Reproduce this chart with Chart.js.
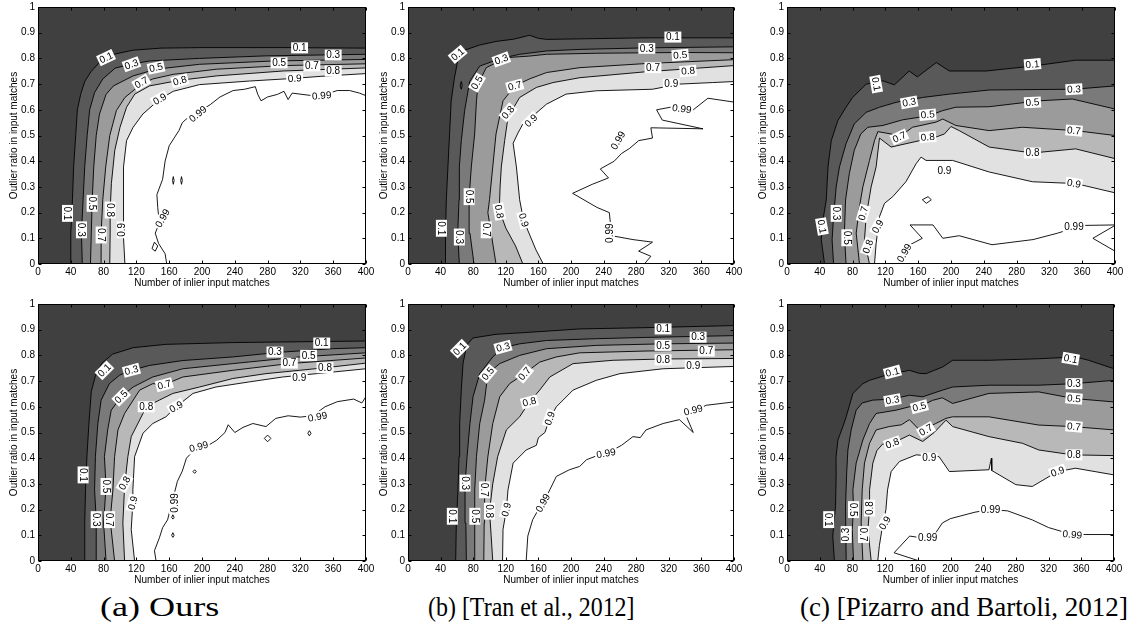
<!DOCTYPE html>
<html>
<head>
<meta charset="utf-8">
<script src="https://cdn.jsdelivr.net/npm/chart.js@4.4.1/dist/chart.umd.min.js"></script>
<style>
html,body{margin:0;padding:0;background:#fff;}
body{width:1136px;height:633px;position:relative;overflow:hidden;}
canvas{position:absolute;}
.cap{position:absolute;top:593px;font-family:"Liberation Serif","Times New Roman",serif;font-size:28px;line-height:28px;white-space:nowrap;color:#000;transform-origin:0 0;}
</style>
</head>
<body>
<script>
// ---------------- shared axes / text ----------------
const xTickValues = [0,40,80,120,160,200,240,280,320,360,400];
const xTickLabels = ['0','40','80','120','160','200','240','280','320','360','400'];
const yTickValues = [0,0.1,0.2,0.3,0.4,0.5,0.6,0.7,0.8,0.9,1];
const yTickLabels = ['0','0.1','0.2','0.3','0.4','0.5','0.6','0.7','0.8','0.9','1'];
const levelValues = [0.1,0.3,0.5,0.7,0.8,0.9,0.99];
const xTitle = 'Number of inlier input matches';
const yTitle = 'Outlier ratio in input matches';
const captions = ['(a) Ours','(b) [Tran et al., 2012]','(c) [Pizarro and Bartoli, 2012]'];
const fullDomain = [[0,0],[0,1],[400,1],[400,0]];

// ---------------- (a) Ours, top ----------------
const A1_L01 = [[40,0],[40,0.12],[42,0.25],[43.5,0.38],[46,0.5],[48,0.6],[52,0.66],[57,0.71],[65,0.75],[75,0.785],[91,0.815],[116,0.832],[150,0.84],[200,0.842],[300,0.842],[400,0.84]];
const A1_L03 = [[54,0],[53,0.12],[55,0.25],[57,0.38],[60,0.5],[63,0.6],[69,0.667],[79,0.72],[94,0.762],[114,0.778],[136,0.79],[197,0.8],[279,0.81],[400,0.816]];
const A1_L05 = [[64,0],[65,0.12],[66,0.24],[68,0.378],[71,0.5],[75,0.584],[83,0.66],[92,0.693],[116,0.732],[144,0.758],[197,0.777],[287,0.79],[400,0.796]];
const A1_L07 = [[77,0],[77,0.12],[79,0.25],[82.6,0.378],[87.5,0.5],[95.6,0.597],[106,0.648],[116,0.674],[126,0.7],[140,0.72],[165,0.738],[218,0.758],[299,0.772],[400,0.779]];
const A1_L08 = [[87.5,0],[88,0.12],[88,0.21],[89.5,0.313],[93.6,0.442],[100,0.532],[108,0.61],[118,0.661],[136,0.693],[173,0.715],[218,0.732],[299,0.751],[400,0.763]];
const A1_L09 = [[106,0],[104,0.12],[104,0.25],[104.6,0.378],[108,0.48],[116,0.532],[128,0.584],[148,0.64],[165,0.672],[197,0.698],[258,0.712],[311,0.722],[344,0.73],[400,0.741]];
const A1_L099 = [[157,0],[155,0.04],[147,0.08],[143,0.12],[148,0.16],[146,0.22],[145,0.27],[152,0.33],[155,0.4],[160,0.46],[166,0.49],[172,0.52],[176,0.55],[183,0.57],[195,0.59],[210,0.62],[222,0.65],[238,0.675],[252,0.68],[265,0.69],[268,0.66],[272,0.635],[280,0.65],[292,0.66],[300,0.672],[305,0.64],[310,0.665],[322,0.66],[335,0.655],[350,0.66],[365,0.675],[380,0.675],[392,0.665],[400,0.655]];
const A1_I1 = [[139,0.06],[142,0.085],[146,0.07],[143,0.05],[139,0.06]];
const A1_I2 = [[164,0.325],[165,0.34],[166,0.325],[165,0.31],[164,0.325]];
const A1_I3 = [[174,0.325],[175,0.34],[176,0.325],[175,0.31],[174,0.325]];
const A1_labels = [
  [83,0.803,'0.1',-25],[114,0.777,'0.3',-20],[144,0.764,'0.5',-12],[126,0.706,'0.7',-30],[173,0.713,'0.8',-15],[148.5,0.642,'0.9',-30],
  [319,0.841,'0.1',0],[360,0.813,'0.3',0],[294,0.783,'0.5',0],[334,0.771,'0.7',0],[360,0.751,'0.8',0],[313,0.722,'0.9',-3],
  [346,0.655,'0.99',-5],[195,0.584,'0.99',-40],[152,0.178,'0.99',-60],
  [36,0.197,'0.1',90],[53,0.133,'0.3',90],[66,0.236,'0.5',90],[77,0.113,'0.7',90],[88,0.21,'0.8',90],[102.5,0.133,'0.9',-90]
];

// ---------------- (b) Tran et al., top ----------------
const B1_L01 = [[46,0],[46,0.12],[47,0.25],[49,0.378],[51,0.506],[53,0.635],[57,0.725],[61,0.79],[67.5,0.83],[88,0.852],[108,0.866],[130,0.875],[149,0.89],[160,0.878],[170,0.874],[211,0.876],[292,0.88],[400,0.88]];
const B1_L03 = [[63,0],[61,0.12],[62.6,0.25],[63,0.378],[65.4,0.48],[69.5,0.597],[75.7,0.71],[88,0.77],[114,0.8],[137,0.816],[170,0.829],[211,0.835],[292,0.841],[400,0.845]];
const B1_L05 = [[81,0],[76,0.12],[75,0.26],[77.7,0.378],[81.8,0.506],[84,0.635],[86,0.7],[96,0.764],[120.7,0.803],[149,0.809],[170,0.816],[231,0.82],[333,0.823],[400,0.822]];
const B1_L07 = [[108,0],[102,0.12],[98,0.2],[100,0.25],[104,0.378],[108,0.506],[116.6,0.635],[131,0.693],[149,0.72],[170,0.745],[211,0.764],[292,0.78],[400,0.795]];
const B1_L08 = [[141,0],[132,0.07],[120,0.14],[112,0.21],[113,0.3],[114.5,0.378],[118.6,0.48],[122.7,0.571],[137,0.648],[157.5,0.687],[178,0.706],[211,0.725],[292,0.748],[400,0.772]];
const B1_L09 = [[166,0],[157,0.055],[145,0.146],[140,0.2],[137,0.25],[133,0.378],[129,0.47],[135,0.51],[141,0.545],[151,0.57],[170,0.622],[194,0.661],[231,0.674],[300,0.68],[333,0.7],[374,0.706],[400,0.71]];
const B1_L099 = [[290,0],[298,0.03],[283,0.05],[300,0.085],[276,0.095],[250,0.11],[247,0.2],[232,0.22],[202,0.275],[226,0.31],[246,0.335],[236,0.37],[253,0.4],[262,0.43],[272,0.45],[283,0.48],[300,0.49],[298,0.53],[362,0.526],[312,0.56],[305,0.6],[322,0.61],[350,0.6],[368,0.645],[400,0.63]];
const B1_I1 = [[64,0.695],[65.4,0.71],[66.5,0.695],[65.4,0.68],[64,0.695]];
const B1_labels = [
  [61,0.816,'0.1',-40],[114.5,0.796,'0.3',-20],[84.7,0.706,'0.5',-60],[131,0.693,'0.7',-15],[122.7,0.59,'0.8',-50],[151,0.558,'0.9',-45],
  [325,0.883,'0.1',0],[293,0.839,'0.3',0],[334,0.813,'0.5',-5],[300.6,0.764,'0.7',0],[343.6,0.751,'0.8',-5],[323,0.7,'0.9',0],
  [336,0.604,'0.99',8],[257.7,0.481,'0.99',-60],[247,0.12,'0.99',-90],
  [41,0.139,'0.1',90],[63,0.105,'0.3',90],[75,0.262,'0.5',90],[96,0.133,'0.7',90],[112,0.204,'0.8',80],[142,0.171,'0.9',75]
];

// ---------------- (c) Pizarro and Bartoli, top ----------------
const C1_L01 = [[45.8,0],[41.8,0.094],[43.8,0.171],[47.9,0.249],[50,0.378],[54,0.48],[62,0.558],[72,0.61],[80,0.648],[96.5,0.7],[108.7,0.706],[117,0.713],[131,0.697],[149,0.751],[159,0.728],[182,0.784],[198,0.751],[243,0.751],[299,0.77],[352,0.793],[400,0.793]];
const C1_L03 = [[56.8,0],[55,0.094],[56.8,0.184],[60,0.3],[64,0.378],[72,0.468],[82,0.545],[96.5,0.59],[112.8,0.61],[133,0.629],[165.5,0.648],[198,0.661],[246.6,0.677],[307.5,0.679],[350,0.68],[400,0.693]];
const C1_L05 = [[72,0],[70,0.12],[71.4,0.249],[76,0.352],[82,0.442],[90,0.506],[98.6,0.532],[117,0.539],[141,0.561],[173.6,0.577],[190,0.597],[206,0.61],[246.6,0.612],[307.5,0.635],[348,0.642],[400,0.603]];
const C1_L07 = [[88.4,0],[84.4,0.12],[88.4,0.223],[92.5,0.3],[100.6,0.403],[106.7,0.48],[110.8,0.515],[127,0.506],[137,0.494],[153,0.532],[181.7,0.552],[190,0.564],[206,0.539],[246.6,0.519],[287,0.532],[352,0.519],[400,0.5]];
const C1_L08 = [[100.6,0],[94.5,0.094],[96.5,0.184],[102.6,0.3],[108.7,0.378],[112.8,0.49],[127,0.455],[145,0.468],[181.7,0.494],[192,0.506],[200,0.535],[210,0.519],[246.6,0.455],[299.4,0.432],[352,0.448],[400,0.41]];
const C1_L09 = [[106.7,0],[108.7,0.08],[112.8,0.184],[118.9,0.236],[129,0.262],[145,0.32],[157.4,0.39],[163.5,0.416],[169.6,0.403],[202,0.403],[246.6,0.358],[299.4,0.32],[352,0.313],[400,0.277]];
const C1_L099 = [[136,0],[140,0.03],[147,0.07],[165,0.1],[150,0.152],[178,0.152],[190,0.1],[210,0.11],[250,0.075],[300,0.095],[330,0.12],[360,0.15],[400,0.152]];
const C1_L099b = [[400,0.15],[373,0.1],[400,0.05]];
const C1_I1 = [[165,0.25],[172,0.262],[176,0.25],[170,0.236],[165,0.25]];
const C1_labels = [
  [42.6,0.146,'0.1',80],[60,0.197,'0.3',90],[73,0.102,'0.5',90],[93,0.197,'0.7',-75],[98.6,0.068,'0.8',-70],[110.8,0.146,'0.9',-60],[143,0.043,'0.99',-60],
  [108.7,0.7,'0.1',80],[149,0.629,'0.3',-10],[171.6,0.581,'0.5',-5],[137,0.494,'0.7',-25],[171.6,0.494,'0.8',-5],[192,0.362,'0.9',0],
  [299.4,0.777,'0.1',-5],[350,0.68,'0.3',-3],[299.4,0.629,'0.5',-3],[350,0.519,'0.7',5],[299.4,0.432,'0.8',0],[350,0.313,'0.9',10],[350,0.146,'0.99',0]
];

// ---------------- (a) Ours, bottom ----------------
const A2_L01 = [[57,0],[57,0.15],[58,0.28],[59.7,0.41],[62,0.53],[65,0.66],[70,0.72],[78,0.77],[91,0.805],[116,0.83],[156,0.843],[238,0.85],[320,0.853],[400,0.856]];
const A2_L03 = [[71,0],[71,0.16],[69,0.277],[70,0.406],[73,0.535],[77,0.626],[87,0.69],[99.5,0.723],[114,0.742],[136,0.761],[176.6,0.78],[237.6,0.794],[294,0.812],[359,0.826],[400,0.83]];
const A2_L05 = [[83,0],[80,0.148],[83,0.29],[81,0.406],[85,0.51],[89.3,0.587],[101.5,0.639],[116,0.677],[140,0.716],[176.6,0.748],[237.6,0.768],[319,0.794],[400,0.81]];
const A2_L07 = [[93.4,0],[88,0.161],[91.4,0.277],[93.4,0.406],[97.5,0.51],[105.6,0.574],[124,0.665],[140,0.69],[154,0.686],[176.6,0.716],[237.6,0.742],[306,0.768],[400,0.79]];
const A2_L08 = [[105.6,0],[103.5,0.148],[105.6,0.29],[109.6,0.406],[113.7,0.484],[128,0.574],[132,0.6],[148,0.626],[164.5,0.652],[197,0.677],[237.6,0.71],[278,0.729],[319,0.742],[350,0.752],[400,0.77]];
const A2_L09 = [[117.8,0],[113.7,0.123],[115.7,0.226],[115.7,0.277],[117.8,0.406],[128,0.497],[140,0.535],[156,0.561],[168.5,0.6],[189,0.652],[217,0.677],[258,0.697],[298.5,0.716],[359,0.735],[400,0.748]];
const A2_L099 = [[144,0],[142,0.04],[148,0.09],[152,0.13],[158,0.16],[162,0.21],[166,0.26],[170,0.31],[176,0.35],[181,0.4],[190,0.43],[205,0.445],[218,0.47],[228,0.5],[232,0.53],[240,0.5],[250,0.52],[262,0.535],[278,0.523],[290,0.555],[305,0.565],[320,0.56],[335,0.565],[350,0.6],[365,0.62],[385,0.63],[395,0.615],[400,0.64]];
const A2_I1 = [[276,0.477],[280,0.49],[284,0.477],[280,0.464],[276,0.477]];
const A2_I2 = [[329,0.497],[331,0.507],[333,0.497],[331,0.487],[329,0.497]];
const A2_I3 = [[189,0.348],[191,0.355],[193,0.348],[191,0.341],[189,0.348]];
const A2_I4 = [[163,0.17],[164.5,0.18],[166,0.17],[164.5,0.163],[163,0.17]];
const A2_I5 = [[163,0.1],[164.5,0.11],[166,0.1],[164.5,0.092],[163,0.1]];
const A2_labels = [
  [81,0.742,'0.1',-45],[114,0.742,'0.3',-15],[101.5,0.639,'0.5',-45],[154,0.686,'0.7',-15],[132,0.6,'0.8',0],[168.5,0.6,'0.9',-30],
  [346,0.848,'0.1',0],[289,0.813,'0.3',0],[330,0.8,'0.5',0],[306.5,0.77,'0.7',0],[350,0.752,'0.8',0],[318.6,0.714,'0.9',0],
  [341,0.561,'0.99',-10],[196,0.445,'0.99',-15],[166.5,0.226,'0.99',-90],
  [55,0.335,'0.1',90],[71,0.161,'0.3',90],[83,0.29,'0.5',90],[87.3,0.161,'0.7',90],[105.6,0.303,'0.8',-60],[115.7,0.226,'0.9',-75]
];

// ---------------- (b) Tran et al., bottom ----------------
const B2_L01 = [[58.5,0],[59.3,0.148],[61.3,0.277],[62.6,0.406],[63.4,0.535],[65.4,0.665],[67.5,0.768],[72,0.84],[79.8,0.868],[108,0.882],[149,0.89],[210.6,0.903],[292,0.908],[400,0.916]];
const B2_L03 = [[71.6,0],[71,0.148],[70,0.3],[72.5,0.406],[76,0.535],[79.8,0.639],[88,0.729],[104,0.794],[116.6,0.83],[137,0.845],[170,0.858],[231,0.865],[292,0.87],[400,0.877]];
const B2_L05 = [[81,0],[82,0.174],[81.8,0.277],[84,0.406],[88,0.535],[94,0.626],[98,0.729],[112.5,0.768],[137,0.8],[170,0.826],[231,0.839],[313,0.845],[400,0.848]];
const B2_L07 = [[93,0],[93.5,0.148],[94,0.277],[98,0.406],[104,0.535],[112.5,0.639],[124.7,0.69],[143,0.729],[161.6,0.774],[182,0.794],[210.6,0.81],[292,0.817],[400,0.822]];
const B2_L08 = [[104,0],[102,0.1],[100,0.194],[104,0.3],[110,0.406],[120.7,0.51],[137,0.561],[149,0.619],[161.6,0.665],[174,0.716],[202.5,0.768],[251.5,0.781],[313,0.786],[400,0.788]];
const B2_L09 = [[116,0],[116.6,0.123],[120.7,0.2],[122.7,0.277],[129,0.381],[145,0.432],[157.5,0.45],[160,0.48],[168,0.5],[174,0.555],[182,0.6],[202.5,0.665],[231,0.703],[260,0.729],[313,0.748],[400,0.757]];
const B2_L099 = [[145,0],[147,0.097],[153,0.161],[160,0.2],[165.6,0.226],[174,0.277],[182,0.329],[198,0.355],[210.6,0.368],[219,0.394],[232,0.41],[243,0.419],[251.5,0.432],[262,0.45],[276,0.484],[285,0.48],[292,0.51],[313,0.535],[333,0.55],[350,0.5],[342,0.56],[355,0.59],[366,0.606],[400,0.619]];
const B2_labels = [
  [63.4,0.826,'0.1',-45],[116.6,0.832,'0.3',-15],[98,0.729,'0.5',-50],[143,0.729,'0.7',-50],[149,0.619,'0.8',-15],[174,0.555,'0.9',-70],
  [313,0.903,'0.1',0],[356,0.871,'0.3',0],[313,0.839,'0.5',0],[366,0.817,'0.7',0],[313,0.783,'0.8',0],[350,0.761,'0.9',0],
  [350,0.587,'0.99',-15],[243,0.419,'0.99',-10],[165.6,0.226,'0.99',-60],
  [54.4,0.174,'0.1',90],[70,0.303,'0.3',90],[82,0.174,'0.5',90],[94,0.277,'0.7',90],[100,0.194,'0.8',90],[120.7,0.2,'0.9',-75]
];

// ---------------- (c) Pizarro and Bartoli, bottom ----------------
const C2_L01 = [[58,0],[56,0.097],[59.4,0.213],[60.2,0.35],[60,0.406],[62.3,0.471],[68.4,0.523],[72.4,0.561],[80.6,0.652],[92.8,0.69],[101,0.703],[123,0.725],[149.7,0.742],[162,0.73],[170,0.729],[190.4,0.755],[202.6,0.781],[247,0.781],[308,0.787],[353,0.794],[369,0.781],[400,0.748]];
const C2_L03 = [[72.4,0],[71.6,0.213],[73,0.342],[74.5,0.432],[78.5,0.51],[84.6,0.587],[92,0.615],[105,0.626],[129,0.63],[149.7,0.645],[166,0.639],[190.4,0.665],[202.6,0.677],[247,0.684],[308,0.684],[351,0.69],[400,0.703]];
const C2_L05 = [[81.4,0],[79.8,0.123],[81.4,0.2],[80.6,0.277],[84.6,0.381],[92.8,0.471],[101,0.535],[109,0.574],[133.5,0.587],[149.7,0.6],[162,0.6],[178,0.625],[190,0.635],[202.6,0.613],[247,0.652],[308,0.658],[351,0.632],[400,0.619]];
const C2_L07 = [[92.8,0],[90.7,0.148],[92,0.277],[94.8,0.381],[101,0.458],[109,0.51],[125,0.523],[140,0.53],[149.7,0.55],[162,0.51],[170,0.516],[182,0.535],[194.5,0.555],[202.6,0.561],[247,0.561],[308,0.529],[349,0.523],[400,0.51]];
const C2_L08 = [[103,0],[99,0.123],[101,0.206],[101,0.277],[105,0.381],[110,0.43],[117,0.455],[129,0.458],[149.7,0.49],[166,0.465],[180,0.5],[194.5,0.548],[202.6,0.523],[247,0.484],[288,0.458],[308,0.432],[349,0.413],[400,0.41]];
const C2_L09 = [[111,0],[113,0.06],[116,0.12],[121,0.2],[123,0.277],[127.4,0.348],[137.5,0.387],[158,0.413],[186,0.406],[198.6,0.348],[247,0.355],[250,0.4],[250.5,0.352],[280,0.297],[300,0.29],[331,0.348],[353,0.361],[400,0.335]];
const C2_L099 = [[162,0],[131,0.032],[150,0.097],[165,0.09],[180,0.1],[190,0.148],[200,0.165],[230,0.19],[249,0.2],[270,0.195],[300,0.16],[320,0.13],[349,0.103],[400,0.103]];
const C2_labels = [
  [51,0.161,'0.1',90],[72.4,0.103,'0.3',-90],[81.4,0.2,'0.5',90],[93.6,0.103,'0.7',90],[101,0.206,'0.8',-90],[119.8,0.148,'0.9',-60],
  [129,0.735,'0.1',-15],[129,0.626,'0.3',-10],[162,0.6,'0.5',-15],[170,0.51,'0.7',-30],[129,0.458,'0.8',-20],[174,0.4,'0.9',0],
  [249,0.2,'0.99',0],[172,0.09,'0.99',0],
  [347,0.787,'0.1',10],[351,0.69,'0.3',0],[351,0.632,'0.5',5],[351,0.523,'0.7',5],[351,0.413,'0.8',0],[331,0.348,'0.9',-20],[349,0.103,'0.99',5]
];

// ---------------- styles / layout (not data) ----------------
const FONT = "'Liberation Sans', Arial, Helvetica, sans-serif";
const bandColors = ['#404040','#595959','#7a7a7a','#9b9b9b','#b8b8b8','#e1e1e1','#ffffff'];
const layout = [
  {l:38,t:6,w:328,h:258},{l:408,t:6,w:326,h:258},{l:787,t:6,w:328,h:258},
  {l:38,t:303,w:328,h:258},{l:408,t:303,w:326,h:258},{l:787,t:303,w:327,h:258}
];
const captionLayout = [{cx:160,w:120},{cx:531,w:207},{cx:964,w:328}];
const PAD_L = 38, PAD_T = 8, PAD_R = 12, PAD_B = 28;

const specs = [
  {levels:[A1_L01,A1_L03,A1_L05,A1_L07,A1_L08,A1_L09], lines:[A1_L099,A1_I1,A1_I2,A1_I3], labels:A1_labels},
  {levels:[B1_L01,B1_L03,B1_L05,B1_L07,B1_L08,B1_L09], lines:[B1_L099,B1_I1], labels:B1_labels},
  {levels:[C1_L01,C1_L03,C1_L05,C1_L07,C1_L08,C1_L09], lines:[C1_L099,C1_L099b,C1_I1], labels:C1_labels},
  {levels:[A2_L01,A2_L03,A2_L05,A2_L07,A2_L08,A2_L09], lines:[A2_L099,A2_I1,A2_I2,A2_I3,A2_I4,A2_I5], labels:A2_labels},
  {levels:[B2_L01,B2_L03,B2_L05,B2_L07,B2_L08,B2_L09], lines:[B2_L099], labels:B2_labels},
  {levels:[C2_L01,C2_L03,C2_L05,C2_L07,C2_L08,C2_L09], lines:[C2_L099], labels:C2_labels}
];

function toPts(a){ return a.map(p => ({x:p[0], y:p[1]})); }

const matlabFrame = {
  id:'matlabFrame',
  afterDatasetsDraw(chart, args, opts){
    const ctx = chart.ctx, a = chart.chartArea, xs = chart.scales.x, ys = chart.scales.y;
    ctx.save();
    ctx.beginPath(); ctx.rect(a.left, a.top, a.right-a.left, a.bottom-a.top); ctx.clip();
    ctx.font = '10px ' + FONT; ctx.textAlign = 'center'; ctx.textBaseline = 'middle';
    (opts.labels || []).forEach(([vx, vy, txt, ang]) => {
      const px = xs.getPixelForValue(vx), py = ys.getPixelForValue(vy);
      ctx.save(); ctx.translate(px, py); ctx.rotate(ang*Math.PI/180);
      const w = ctx.measureText(txt).width;
      ctx.fillStyle = '#fff'; ctx.fillRect(-w/2-1.5, -5.5, w+3, 11);
      ctx.fillStyle = '#000'; ctx.fillText(txt, 0, 0.5);
      ctx.restore();
    });
    ctx.restore();
    ctx.save();
    ctx.strokeStyle = '#000'; ctx.lineWidth = 1;
    const L = Math.round(a.left)+0.5, R = Math.round(a.right)-0.5, T = Math.round(a.top)+0.5, B = Math.round(a.bottom)-0.5;
    ctx.strokeRect(L, T, R-L, B-T);
    ctx.beginPath();
    xTickValues.forEach(v => { const px = Math.round(xs.getPixelForValue(v))+0.5; ctx.moveTo(px,B); ctx.lineTo(px,B-3); ctx.moveTo(px,T); ctx.lineTo(px,T+3); });
    yTickValues.forEach(v => { const py = Math.round(ys.getPixelForValue(v))+0.5; ctx.moveTo(L,py); ctx.lineTo(L+3,py); ctx.moveTo(R,py); ctx.lineTo(R-3,py); });
    ctx.stroke();
    ctx.restore();
  }
};

function makeChart(spec, box){
  const cv = document.createElement('canvas');
  const W = box.w + PAD_L + PAD_R, H = box.h + PAD_T + PAD_B;
  cv.width = W; cv.height = H;
  cv.style.left = (box.l - PAD_L) + 'px'; cv.style.top = (box.t - PAD_T) + 'px';
  cv.style.width = W + 'px'; cv.style.height = H + 'px';
  document.body.appendChild(cv);
  const ds = [];
  spec.lines.forEach(a => ds.push({data:toPts(a), showLine:true, fill:false, borderColor:'#000', borderWidth:0.9, pointRadius:0, pointHoverRadius:0, backgroundColor:'rgba(0,0,0,0)'}));
  for (let k = spec.levels.length-1; k >= 0; k--) {
    ds.push({data:toPts([[400,0]].concat(spec.levels[k])), showLine:true, fill:'shape', backgroundColor:bandColors[k+1], borderColor:'#000', borderWidth:0.9, pointRadius:0, pointHoverRadius:0});
  }
  ds.push({data:toPts(fullDomain), showLine:true, fill:'shape', backgroundColor:bandColors[0], borderWidth:0, borderColor:'rgba(0,0,0,0)', pointRadius:0, pointHoverRadius:0});
  const tickFont = {family:FONT, size:10};
  new Chart(cv, {
    type:'scatter',
    data:{datasets:ds},
    options:{
      responsive:false, animation:false, devicePixelRatio:1, events:[],
      layout:{padding:{left:0, top:PAD_T, right:PAD_R, bottom:0}},
      plugins:{legend:{display:false}, tooltip:{enabled:false}, matlabFrame:{labels:spec.labels}},
      scales:{
        x:{type:'linear', min:0, max:400,
           afterBuildTicks:s => { s.ticks = xTickValues.map(v => ({value:v})); },
           ticks:{autoSkip:false, maxRotation:0, minRotation:0, padding:2, color:'#000', font:tickFont, callback:(v,i) => xTickLabels[i]},
           grid:{display:false, drawTicks:false}, border:{display:false},
           title:{display:true, text:xTitle, color:'#000', font:tickFont, padding:{top:0, bottom:3}},
           afterFit:s => { s.height = PAD_B; }},
        y:{type:'linear', min:0, max:1,
           afterBuildTicks:s => { s.ticks = yTickValues.map(v => ({value:v})); },
           ticks:{autoSkip:false, padding:3, color:'#000', font:tickFont, callback:(v,i) => yTickLabels[i]},
           grid:{display:false, drawTicks:false}, border:{display:false},
           title:{display:true, text:yTitle, color:'#000', font:tickFont, padding:{top:8, bottom:0}},
           afterFit:s => { s.width = PAD_L; }}
      }
    },
    plugins:[matlabFrame]
  });
}

specs.forEach((s, i) => makeChart(s, layout[i]));

captions.forEach((txt, i) => {
  const d = document.createElement('div');
  d.className = 'cap'; d.textContent = txt;
  document.body.appendChild(d);
  const target = captionLayout[i].w;
  const w0 = d.offsetWidth;
  const sc = Math.max(0.85, Math.min(target / w0, 1.3));
  d.style.left = (captionLayout[i].cx - (w0*sc)/2) + 'px';
  d.style.transform = 'scaleX(' + sc.toFixed(3) + ')';
});
</script>
</body>
</html>
